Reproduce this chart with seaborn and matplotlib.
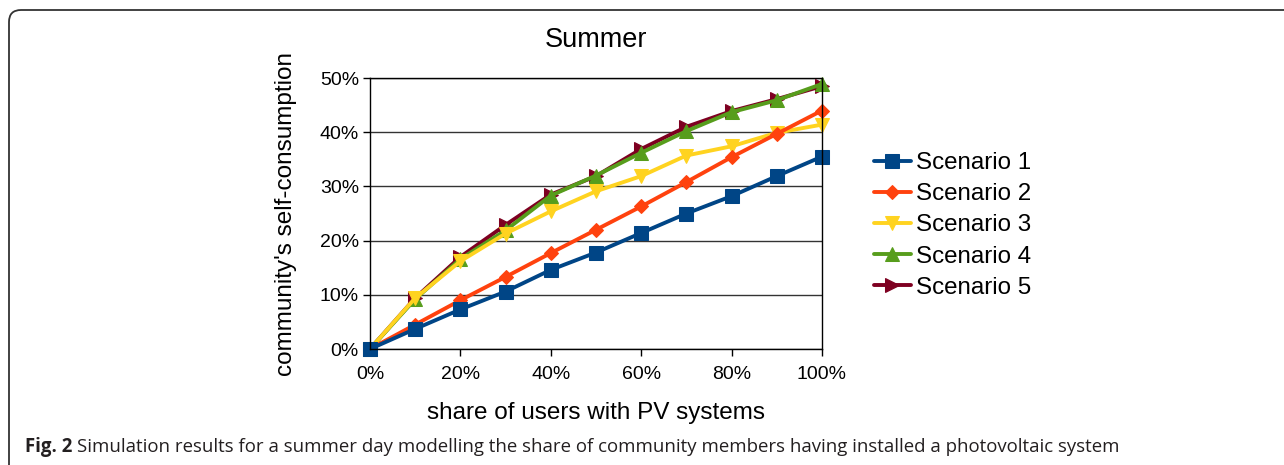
import matplotlib
matplotlib.use("Agg")
import matplotlib.pyplot as plt
import seaborn as sns
from matplotlib.patches import FancyBboxPatch
from matplotlib.ticker import PercentFormatter, MultipleLocator

# data (percent)
share = [0, 10, 20, 30, 40, 50, 60, 70, 80, 90, 100]
scenario_1 = [0, 3.7, 7.3, 10.6, 14.6, 17.8, 21.4, 25.0, 28.2, 31.9, 35.5]
scenario_2 = [0, 4.5, 9.0, 13.3, 17.7, 22.0, 26.3, 30.8, 35.4, 39.7, 44.0]
scenario_3 = [0, 9.4, 16.2, 21.3, 25.4, 29.1, 31.9, 35.7, 37.4, 39.9, 41.4]
scenario_4 = [0, 9.2, 16.6, 21.9, 28.3, 32.0, 36.2, 40.2, 43.7, 45.9, 48.9]
scenario_5 = [0, 9.4, 17.0, 22.9, 28.5, 31.9, 36.9, 41.0, 43.9, 46.1, 48.5]

names = ["Scenario 1", "Scenario 2", "Scenario 3", "Scenario 4", "Scenario 5"]
series = [scenario_1, scenario_2, scenario_3, scenario_4, scenario_5]
colors = ["#004586", "#ff420e", "#ffd320", "#579d1c", "#7e0021"]
markers = ["s", "D", "v", "^", ">"]
msizes = [10, 7, 10, 10, 10]

sns.set_style("white")
plt.rcParams["font.family"] = ["Liberation Sans", "DejaVu Sans"]
plt.rcParams["text.color"] = "black"
plt.rcParams["axes.labelcolor"] = "black"
plt.rcParams["xtick.color"] = "black"
plt.rcParams["ytick.color"] = "black"

fig = plt.figure(figsize=(12.84, 4.65), dpi=100)
ax = fig.add_axes([370 / 1284, 1 - 349 / 465, 452 / 1284, 271 / 465])

# draw in reverse so scenario 1 ends up on top
for name, vals, c, m, ms in reversed(list(zip(names, series, colors, markers, msizes))):
    sns.lineplot(x=share, y=vals, ax=ax, color=c, marker=m, markersize=ms,
                 markeredgecolor=c, linewidth=2.8, label=name, clip_on=False)

ax.set_xlim(0, 100)
ax.set_ylim(0, 50)
ax.xaxis.set_major_locator(MultipleLocator(20))
ax.yaxis.set_major_locator(MultipleLocator(10))
ax.xaxis.set_major_formatter(PercentFormatter(100, decimals=0))
ax.yaxis.set_major_formatter(PercentFormatter(100, decimals=0))
ax.grid(axis="y", color="#333333", linewidth=1)
ax.set_axisbelow(True)
for s in ax.spines.values():
    s.set_color("black")
    s.set_linewidth(1)
ax.tick_params(axis="both", which="major", direction="out", length=5, width=1,
               color="black", labelsize=14, left=True, bottom=True)
ax.tick_params(axis="y", pad=3)
ax.tick_params(axis="x", pad=7)

ax.set_title("Summer", fontsize=19.5, pad=22)
ax.set_xlabel("share of users with PV systems", fontsize=17.5, labelpad=14)
ax.set_ylabel("community's self-consumption", fontsize=17.5, labelpad=16)

handles, labels = ax.get_legend_handles_labels()
ax.legend(handles[::-1], labels[::-1], loc="center left",
          bbox_to_anchor=(1.066, 0.456), frameon=False, fontsize=17.4,
          handlelength=1.55, handletextpad=0.2, labelspacing=0.38)

# rounded frame around the figure panel
frame = FancyBboxPatch((0.09, -1.0), 14, 5.55, boxstyle="round,pad=0,rounding_size=0.12",
                       transform=fig.dpi_scale_trans, fill=False, lw=1.3, ec="#333333",
                       clip_on=False)
fig.add_artist(frame)

# caption
cap1 = fig.text(25 / 1284, 1 - 447 / 465, "Fig. 2", fontsize=13.4, fontweight="bold",
                family=["Open Sans", "DejaVu Sans"], va="center", color="#231f20")
fig.canvas.draw()
bb = cap1.get_window_extent()
fig.text((bb.x1 + 5) / 1284, 1 - 447 / 465,
         "Simulation results for a summer day modelling the share of community members "
         "having installed a photovoltaic system",
         fontsize=13.4, family=["Open Sans", "DejaVu Sans"], va="center", color="#231f20")

fig.savefig("out.png", dpi=100)
